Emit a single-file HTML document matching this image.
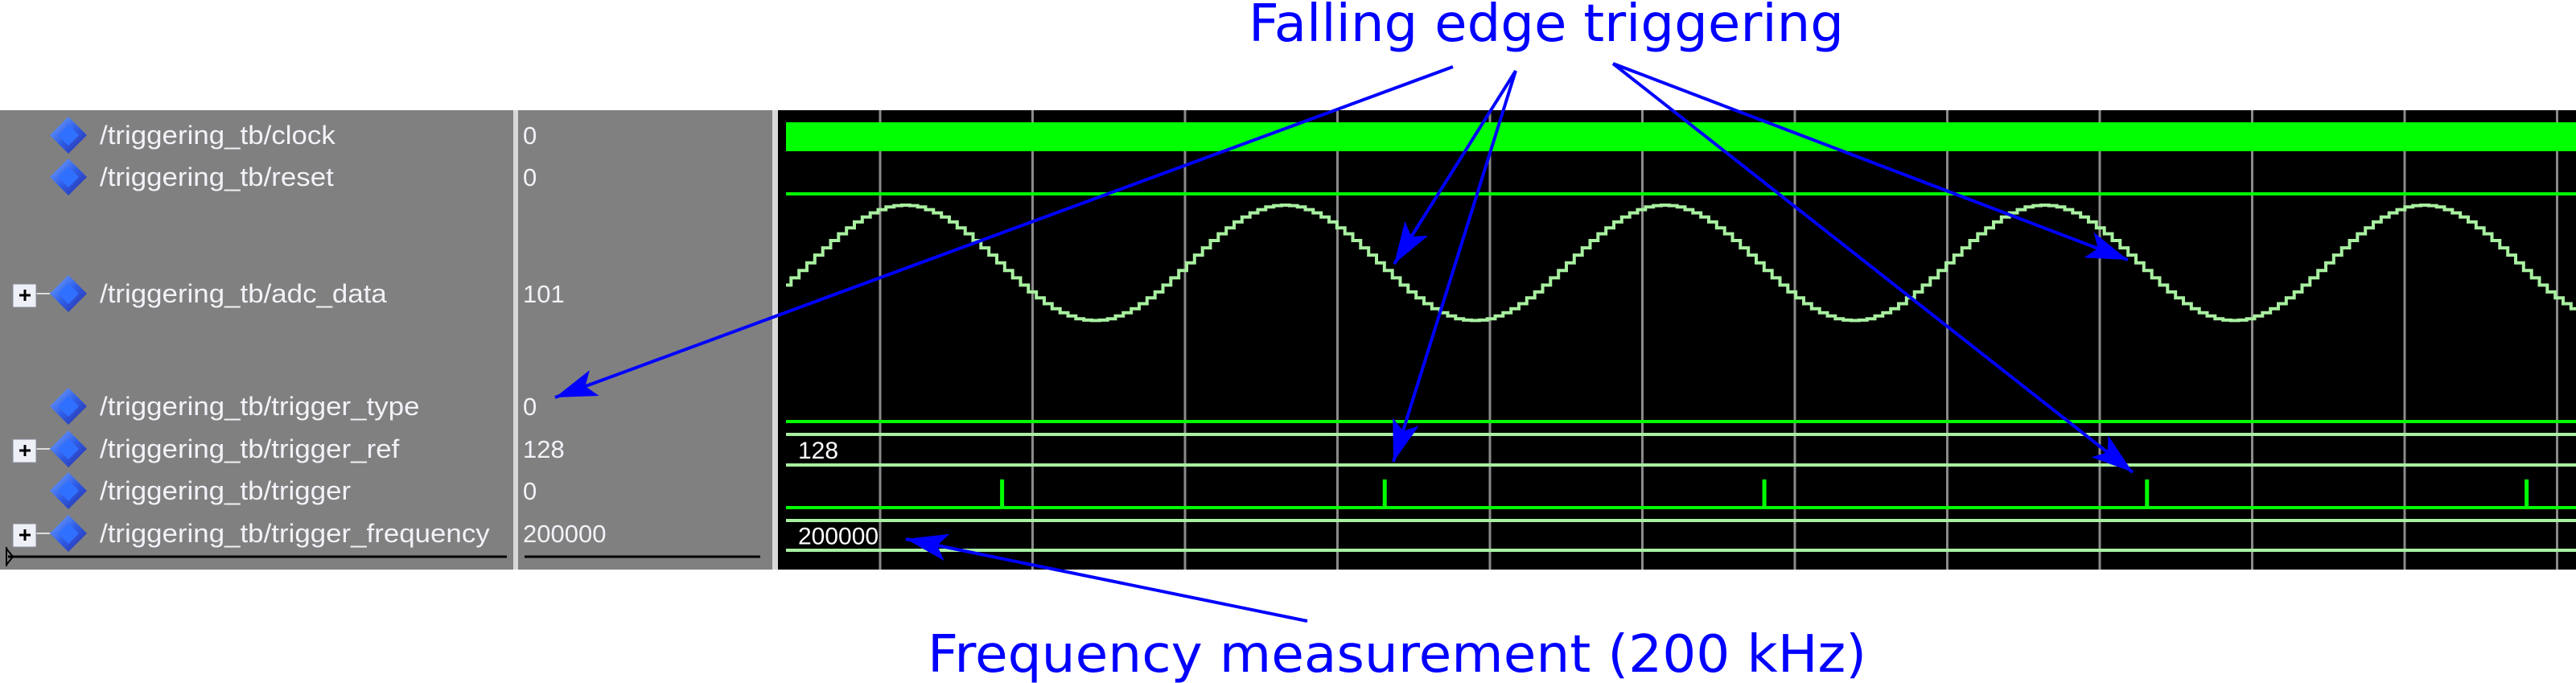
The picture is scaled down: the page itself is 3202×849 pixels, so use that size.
<!DOCTYPE html>
<html><head><meta charset="utf-8"><style>
html,body{margin:0;padding:0;background:#fff;width:3202px;height:849px;overflow:hidden}
svg{display:block}
</style></head><body>
<svg id="s" width="3202" height="849" viewBox="0 0 3202 849" xmlns="http://www.w3.org/2000/svg">
<defs>
<linearGradient id="dg" x1="0" y1="0" x2="1" y2="1"><stop offset="0" stop-color="#7aa8ff"/><stop offset="0.5" stop-color="#2f5fe8"/><stop offset="1" stop-color="#2a2aa0"/></linearGradient>
<marker id="ah" markerUnits="userSpaceOnUse" markerWidth="60" markerHeight="40" refX="52" refY="17" orient="auto"><path d="M0,0 L52,17 L0,34 L12,17 Z" fill="#0000ff"/></marker>
</defs>
<rect x="0" y="137" width="638" height="571" fill="#808080"/>
<rect x="638" y="137" width="6" height="571" fill="#d8d8d8"/>
<rect x="644" y="137" width="316" height="571" fill="#808080"/>
<rect x="960" y="137" width="7" height="571" fill="#d8d8d8"/>
<rect x="967" y="137" width="2235" height="571" fill="#000"/>
<line x1="10" y1="692" x2="630" y2="692" stroke="#000" stroke-width="3"/>
<line x1="652" y1="692" x2="945" y2="692" stroke="#000" stroke-width="3"/>
<path d="M8,680 L8,704 M8,682 L16,692 L8,702" stroke="#000" stroke-width="2" fill="none"/>
<g id="names"></g><g id="grid"></g><g id="waves"></g><g id="ann"></g>
</svg>
<script>
const signalNames=["/triggering_tb/clock","/triggering_tb/reset","/triggering_tb/adc_data","/triggering_tb/trigger_type","/triggering_tb/trigger_ref","/triggering_tb/trigger","/triggering_tb/trigger_frequency"];
const signalValues=["0","0","101","0","128","0","200000"];
const expandable=[false,false,true,false,true,false,true];
const adcPeriodSamples=[128,145,161,177,192,205,218,229,238,245,251,254,255,254,251,245,238,229,218,205,192,177,161,145,128,111,95,79,64,51,38,27,18,11,5,2,1,2,5,11,18,27,38,51,64,79,95,111];
const triggerTimes=[0.80,3.31,5.80,8.31,10.80];
const busRefText="128";
const busFreqText="200000";
const gridCount=12;
const NS="http://www.w3.org/2000/svg";
function mk(t,a,p){const e=document.createElementNS(NS,t);for(const k in a)e.setAttribute(k,a[k]);p.appendChild(e);return e;}
const rowY=[168,220,365,505,558,610,663];
const X0=1094,DX=189.5;
function tx(t){return X0+t*DX;}
const names=document.getElementById('names');
signalNames.forEach((n,i)=>{
  const y=rowY[i];
  const g=mk('g',{},names);
  
  
  if(expandable[i]){
    mk('line',{x1:45,y1:y,x2:62,y2:y,stroke:'#ddd','stroke-width':2},g);
    const b=mk('rect',{x:16,y:y-12,width:29,height:29,fill:'#eef0f8',stroke:'#889','stroke-width':1},g);
    
    
    mk('path',{d:`M24,${y+2}h14M31,${y-5}v14`,stroke:'#000','stroke-width':3},g);
  }
  mk('path',{d:`M85,${y-23} L108,${y} L85,${y+23} L62,${y} Z`,fill:'url(#dg)'},g);
  mk('path',{d:`M85,${y-13} L98,${y} L85,${y+13} L72,${y} Z`,fill:'#3070ff'},g);
  const t=mk('text',{x:124,y:y+11,'font-family':'Liberation Sans, sans-serif','font-size':32,fill:'#f2f2f8'},g);
  t.textContent=n;
  
  
  const L=t.getComputedTextLength();
  if(L>0){t.setAttribute('textLength',(L*1.09).toFixed(1));t.setAttribute('lengthAdjust','spacingAndGlyphs');}
  const v=mk('text',{x:650,y:y+11,'font-family':'Liberation Sans, sans-serif','font-size':31,fill:'#f2f2f8'},g);
  v.textContent=signalValues[i];
  
  
});
const grid=document.getElementById('grid');
for(let i=0;i<gridCount;i++){
  const l=mk('line',{x1:tx(i),y1:137,x2:tx(i),y2:708,stroke:'#8a8a8a','stroke-width':3},grid);
  
  
}
const W=document.getElementById('waves');
const clk=mk('rect',{x:977,y:152,width:2225,height:36,fill:'#00ff00'},W);


const rs=mk('line',{x1:977,y1:241,x2:3202,y2:241,stroke:'#00ff00','stroke-width':4},W);


const period=472, N=adcPeriodSamples.length, stepW=period/N, phaseX=1003;
function vy(v){return 399-v/255*144;}
let d='',first=true;
for(let x=977;x<3202;){
  const k=Math.floor((x-phaseX)/stepW);
  const idx=((k%N)+N)%N;
  const xe=Math.min(3202,phaseX+(k+1)*stepW);
  const y=vy(adcPeriodSamples[idx]);
  d+=(first?'M':'L')+x.toFixed(1)+','+y.toFixed(1)+' L'+xe.toFixed(1)+','+y.toFixed(1)+' ';
  first=false;x=xe+0.001;
}
const adc=mk('path',{d:d,fill:'none',stroke:'#a8f0a0','stroke-width':4},W);


const tt=mk('line',{x1:977,y1:524,x2:3202,y2:524,stroke:'#00ff00','stroke-width':4},W);


function bus(y1,y2,label,name){
  const g=mk('g',{},W);
  
  
  mk('line',{x1:977,y1:y1,x2:3202,y2:y1,stroke:'#a8f0a0','stroke-width':4},g);
  mk('line',{x1:977,y1:y2,x2:3202,y2:y2,stroke:'#a8f0a0','stroke-width':4},g);
  const t=mk('text',{x:992,y:(y1+y2)/2+11,'font-family':'Liberation Sans, sans-serif','font-size':30,fill:'#fff'},g);
  t.textContent=label;
}
bus(540,578,busRefText,'trigger-ref-bus');
const tb=mk('line',{x1:977,y1:631,x2:3202,y2:631,stroke:'#00ff00','stroke-width':4},W);


triggerTimes.forEach(t=>{
  const p=mk('rect',{x:tx(t)-2.5,y:596,width:5,height:35,fill:'#00ff00'},W);
  
  
});
bus(647,684,busFreqText,'trigger-frequency-bus');
const A=document.getElementById('ann');
function arrow(x1,y1,x2,y2){
  const l=mk('line',{x1:x1,y1:y1,x2:x2,y2:y2,stroke:'#0000ff','stroke-width':4,'marker-end':'url(#ah)'},A);
  
  
}
arrow(1806,83,690,494);
arrow(1884,88,1733,328);
arrow(1884,88,1732,574);
arrow(2005,79,2645,323);
arrow(2005,79,2651,587);
arrow(1625,772,1126,670);
const t1=mk('text',{x:1552,y:51,'font-family':'DejaVu Sans, sans-serif','font-size':64,fill:'#0000ff',textLength:740,lengthAdjust:'spacingAndGlyphs'},A);
t1.textContent='Falling edge triggering';


const t2=mk('text',{x:1153,y:835,'font-family':'DejaVu Sans, sans-serif','font-size':64,fill:'#0000ff',textLength:1167,lengthAdjust:'spacingAndGlyphs'},A);
t2.textContent='Frequency measurement (200 kHz)';


</script>
</body></html>
